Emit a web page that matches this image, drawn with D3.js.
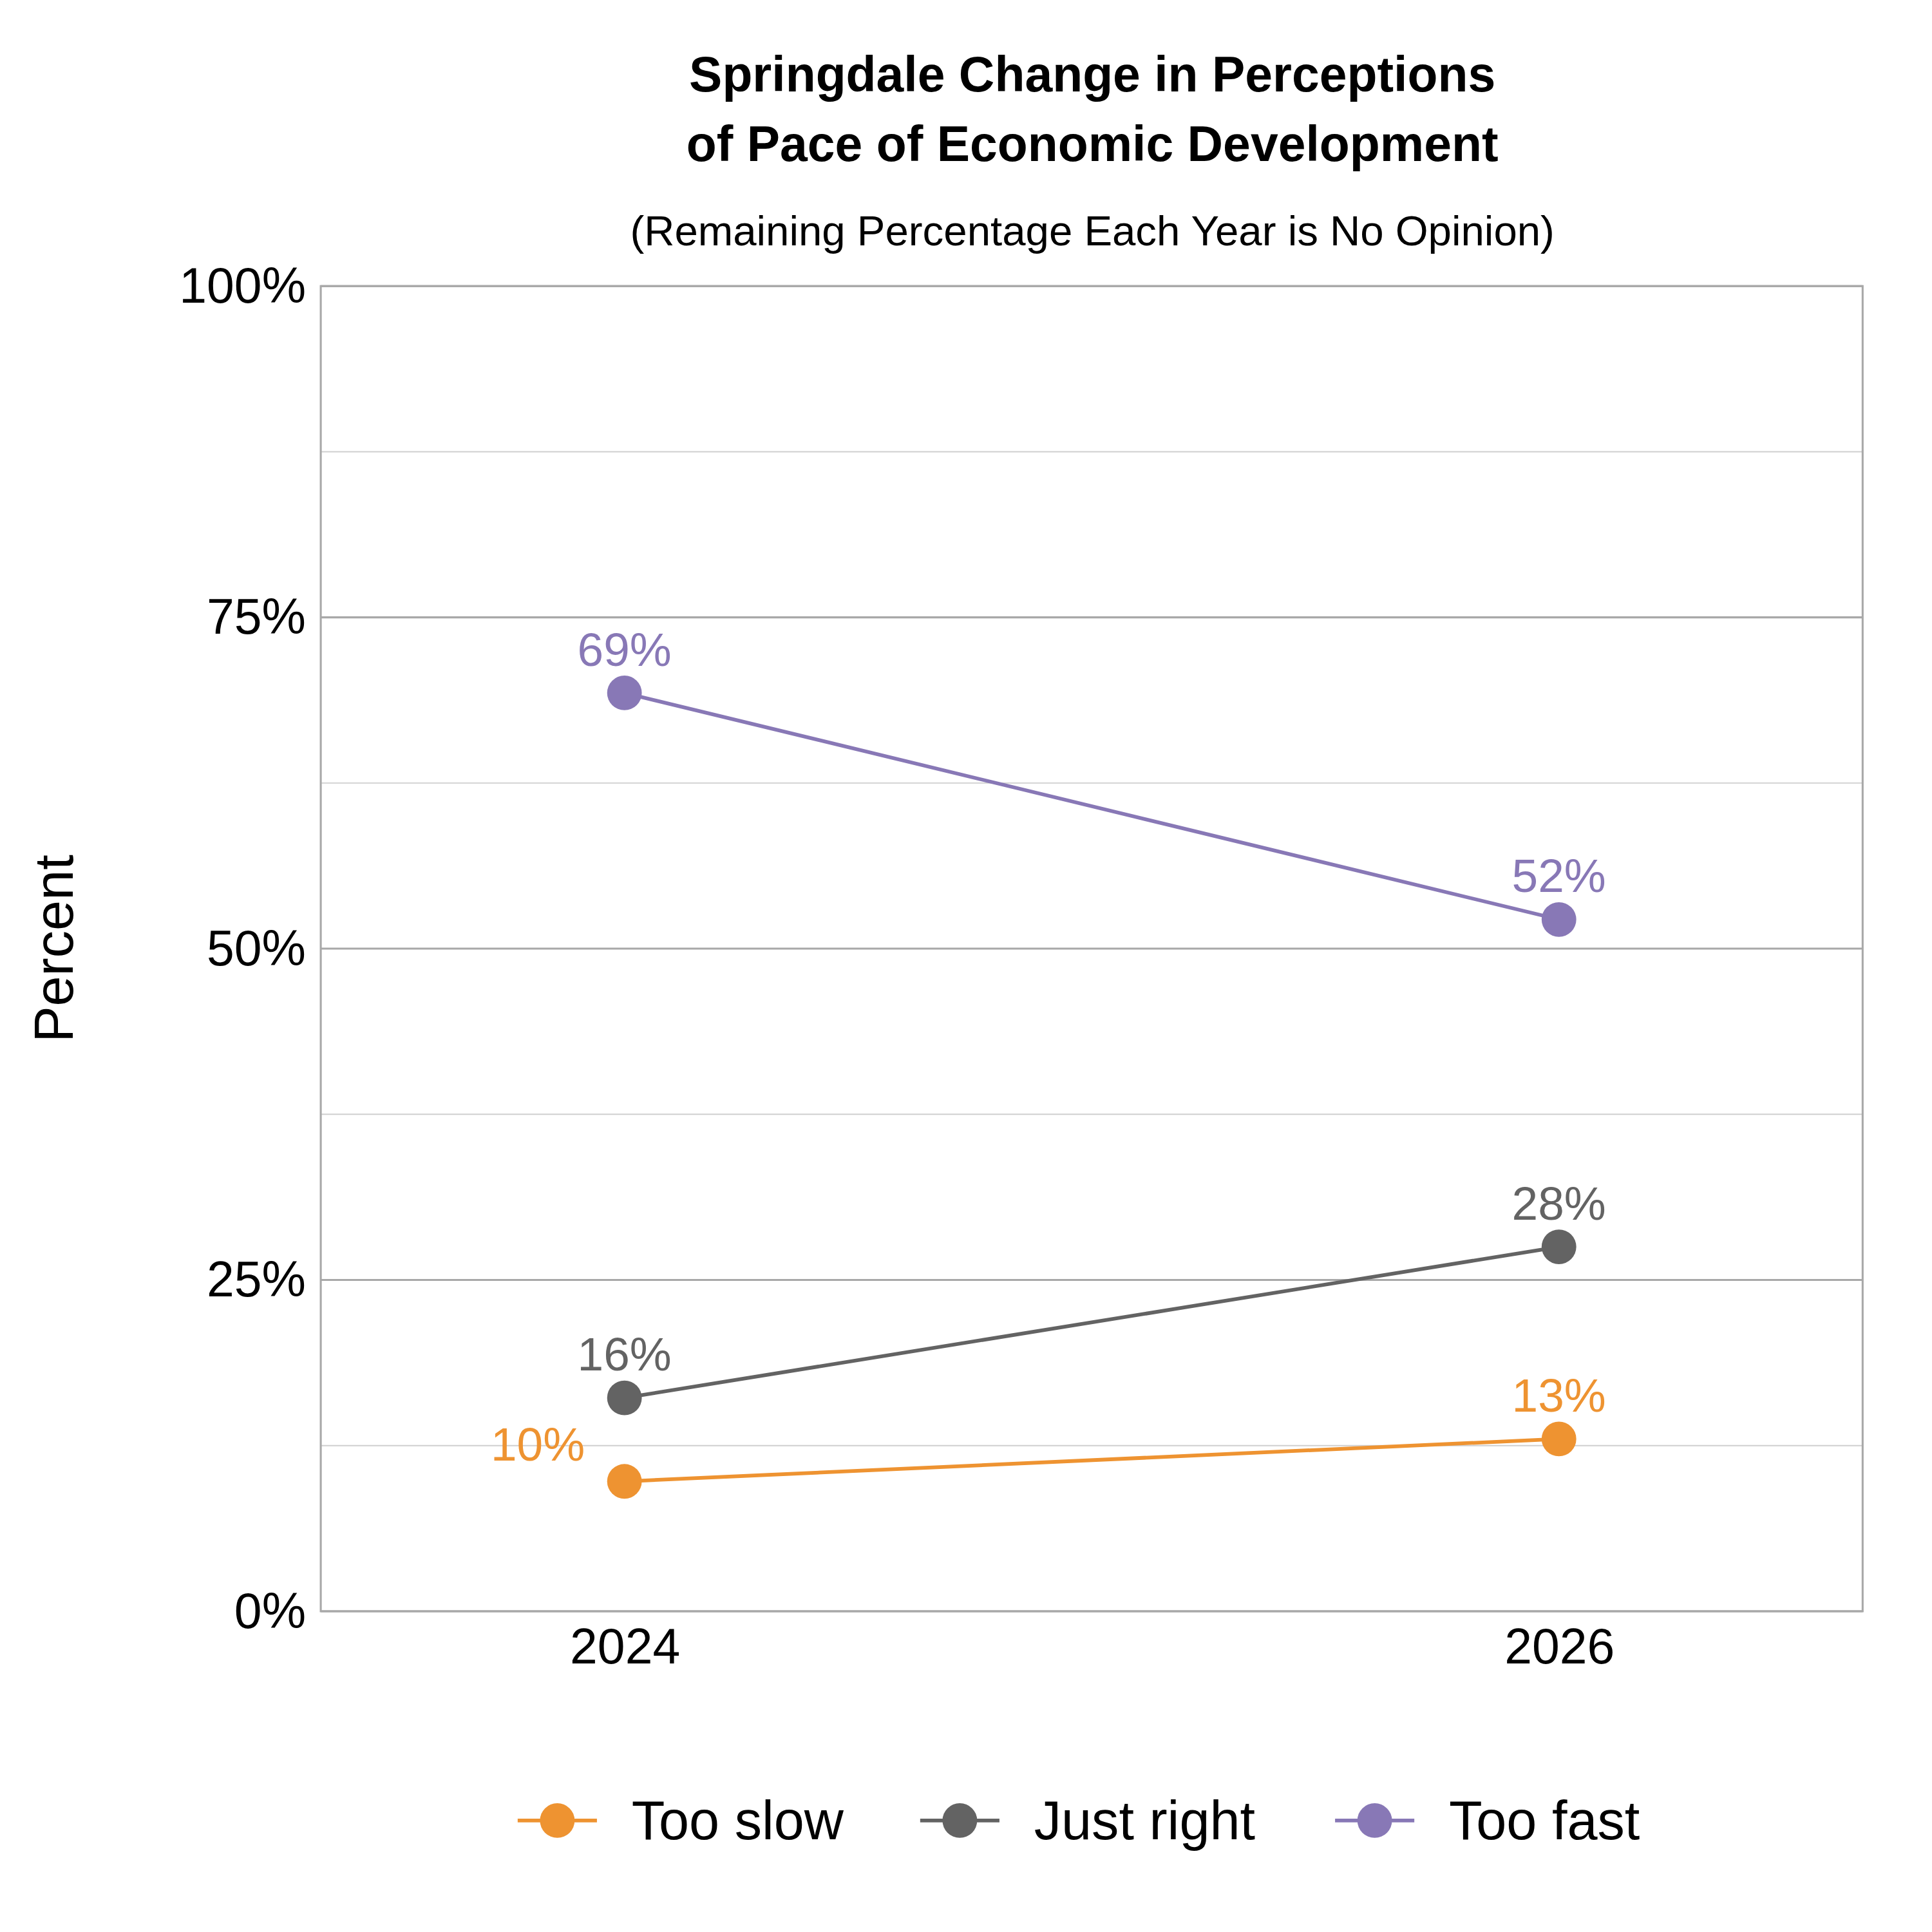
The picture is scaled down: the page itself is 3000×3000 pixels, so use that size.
<!DOCTYPE html>
<html>
<head>
<meta charset="utf-8">
<script src="https://cdn.jsdelivr.net/npm/d3@7"></script>
<style>
  body { margin: 0; background: #fff; }
  text { font-family: "Liberation Sans", Arial, sans-serif; }
</style>
</head>
<body>
<svg id="chart" width="3000" height="3000" viewBox="0 0 1560 1560"></svg>
<script>
// data
const years = ["2024", "2026"];
const seriesNames = ["Too slow", "Just right", "Too fast"];
const seriesColors = ["#EE9331", "#636363", "#8878B6"];
const tooSlow = [9.8, 13.0];
const justRight = [16.1, 27.5];
const tooFast = [69.3, 52.2];
const valueLabels = [["10%", "13%"], ["16%", "28%"], ["69%", "52%"]];
const yTicks = [0, 25, 50, 75, 100];
const yMinor = [12.5, 37.5, 62.5, 87.5];

const series = [tooSlow, justRight, tooFast].map(function(vals, i){
    return {name: seriesNames[i], color: seriesColors[i], labels: valueLabels[i],
            points: vals.map(function(v, j){ return {year: years[j], value: v}; })};
});

const margin = {top: 231, right: 56, bottom: 259, left: 259};
const width = 1560 - margin.left - margin.right;
const height = 1560 - margin.top - margin.bottom;

let root = d3.select("#chart");
let svg = root.append("g")
    .attr("transform", "translate(" + margin.left + "," + margin.top + ")");

let xScale = d3.scalePoint().domain(years).range([0, width]).padding(0.325);
let yScale = d3.scaleLinear().domain([0, 100]).range([height, 0]);

// grid
svg.selectAll(".minor").data(yMinor).enter().append("line")
    .attr("x1", 0).attr("x2", width)
    .attr("y1", d => yScale(d)).attr("y2", d => yScale(d))
    .attr("stroke", "#cfcfcf").attr("stroke-width", 1);
svg.selectAll(".major").data(yTicks).enter().append("line")
    .attr("x1", 0).attr("x2", width)
    .attr("y1", d => yScale(d)).attr("y2", d => yScale(d))
    .attr("stroke", "#a8a8a8").attr("stroke-width", 1.6);
svg.append("rect").attr("width", width).attr("height", height)
    .attr("fill", "none").attr("stroke", "#a8a8a8").attr("stroke-width", 1.6);

// axes
let yAxis = d3.axisLeft(yScale).tickValues(yTicks).tickFormat(d => d + "%").tickSize(0).tickPadding(12);
svg.append("g").call(yAxis).call(g => g.select(".domain").remove())
    .selectAll("text").attr("font-size", 40).attr("fill", "#000");
let xAxis = d3.axisBottom(xScale).tickSize(0).tickPadding(14);
svg.append("g").attr("transform", "translate(0," + height + ")").call(xAxis)
    .call(g => g.select(".domain").remove())
    .selectAll("text").attr("font-size", 40).attr("fill", "#000");

svg.append("text")
    .attr("transform", "translate(-200," + (height / 2) + ") rotate(-90)")
    .attr("text-anchor", "middle").attr("font-size", 44).text("Percent");

// lines, points, labels
let line = d3.line().x(d => xScale(d.year)).y(d => yScale(d.value));
series.forEach(function(s){
    svg.append("path").datum(s.points).attr("d", line)
        .attr("fill", "none").attr("stroke", s.color).attr("stroke-width", 3);
    svg.selectAll(null).data(s.points).enter().append("circle")
        .attr("cx", d => xScale(d.year)).attr("cy", d => yScale(d.value))
        .attr("r", 14).attr("fill", s.color);
    svg.selectAll(null).data(s.points).enter().append("text")
        .attr("x", function(d, j){ return xScale(d.year) - (s.name == "Too slow" && j == 0 ? 70 : 0); })
        .attr("y", function(d, j){ return yScale(d.value) - (s.name == "Too slow" && j == 0 ? 17 : 22); })
        .attr("text-anchor", "middle").attr("font-size", 38).attr("fill", s.color)
        .text((d, j) => s.labels[j]);
});

// titles
root.append("text").attr("x", 882).attr("y", 74).attr("text-anchor", "middle")
    .attr("font-size", 40).attr("font-weight", "bold").text("Springdale Change in Perceptions");
root.append("text").attr("x", 882).attr("y", 130).attr("text-anchor", "middle")
    .attr("font-size", 40).attr("font-weight", "bold").text("of Pace of Economic Development");
root.append("text").attr("x", 882).attr("y", 198).attr("text-anchor", "middle")
    .attr("font-size", 34).text("(Remaining Percentage Each Year is No Opinion)");

// legend
const legendX = [450, 775, 1110];
let legend = root.append("g");
series.forEach(function(s, i){
    let g = legend.append("g").attr("transform", "translate(" + legendX[i] + ",1470)");
    g.append("line").attr("x1", -32).attr("x2", 32).attr("stroke", s.color).attr("stroke-width", 3);
    g.append("circle").attr("r", 14).attr("fill", s.color);
    g.append("text").attr("x", 60).attr("y", 15).attr("font-size", 44).text(s.name);
});
</script>
</body>
</html>
